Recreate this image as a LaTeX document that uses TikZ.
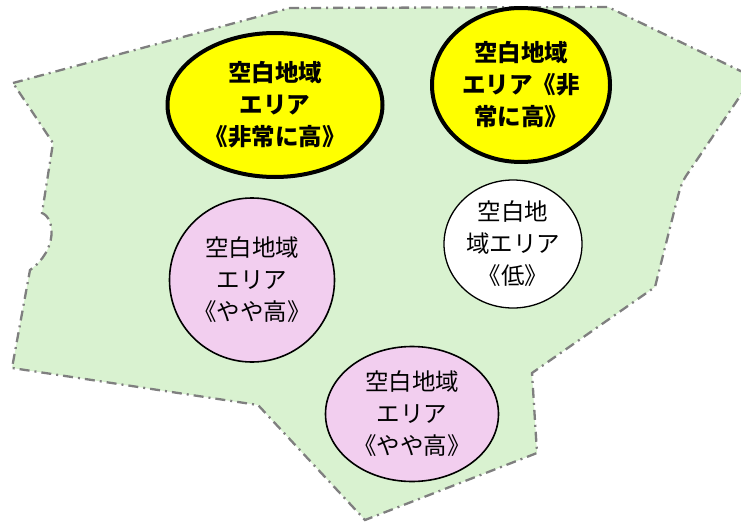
\documentclass[tikz,border=0pt]{standalone}
\usepackage{fontspec}
\newfontfamily\cjk{Noto Sans CJK JP}
\usetikzlibrary{shapes.geometric}
\definecolor{areagreen}{HTML}{D9F2D0}
\definecolor{bordergray}{HTML}{7F7F7F}
\definecolor{pinkfill}{HTML}{F2CEEF}
\definecolor{yellowfill}{HTML}{FFFF00}
\tikzset{
  areaborder/.style={fill=areagreen, draw=bordergray, line width=2.3pt,
    dash pattern=on 10pt off 5pt on 2pt off 5pt},
  zone/.style={ellipse, draw=black, inner sep=0pt},
  veryhigh/.style={zone, fill=yellowfill, line width=4pt},
  midzone/.style={zone, fill=pinkfill, line width=1.6pt},
  lowzone/.style={zone, fill=white, line width=1.3pt},
  zonetext/.style={align=center, inner sep=0pt, font=\cjk\fontsize{23.5}{32}\selectfont},
  boldtext/.style={zonetext, font=\cjk\bfseries\fontsize{23.5}{32}\selectfont}
}
\begin{document}
\begin{tikzpicture}[x=1pt,y=-1pt]
\useasboundingbox (0,0) rectangle (741,522);
\begin{scope}
\clip (0,0) rectangle (741,522);
\path[areaborder] (13,83) -- (290,8) -- (608,7) -- (753,77) -- (686,176)
  .. controls (681,184) and (679,192) .. (677,200) -- (655,287) -- (532,373)
  -- (537,453) -- (365,520) -- (258,405) -- (12,368) -- (30,270)
  .. controls (58,250) and (55,218) .. (42,213) -- (53,143) -- cycle;
\end{scope}
\node[veryhigh, minimum width=215pt, minimum height=144pt] (vh1) at (275,105) {};
\node[boldtext] (vh1t) at (vh1.center) {空白地域\\エリア\\《非常に高》};
\node[veryhigh, minimum width=178pt, minimum height=154pt] (vh2) at (521,85) {};
\node[boldtext] (vh2t) at (vh2.center) {空白地域\\エリア《非\\常に高》};
\node[lowzone, minimum width=138pt, minimum height=128pt] (low) at (513,244) {};
\node[zonetext] (lowt) at (low.center) {空白地\\域エリア\\《低》};
\node[midzone, minimum width=165pt, minimum height=164pt] (mid1) at (252,280) {};
\node[zonetext] (mid1t) at (mid1.center) {空白地域\\エリア\\《やや高》};
\node[midzone, minimum width=173pt, minimum height=135pt] (mid2) at (412,414) {};
\node[zonetext] (mid2t) at (mid2.center) {空白地域\\エリア\\《やや高》};
\end{tikzpicture}
\end{document}
